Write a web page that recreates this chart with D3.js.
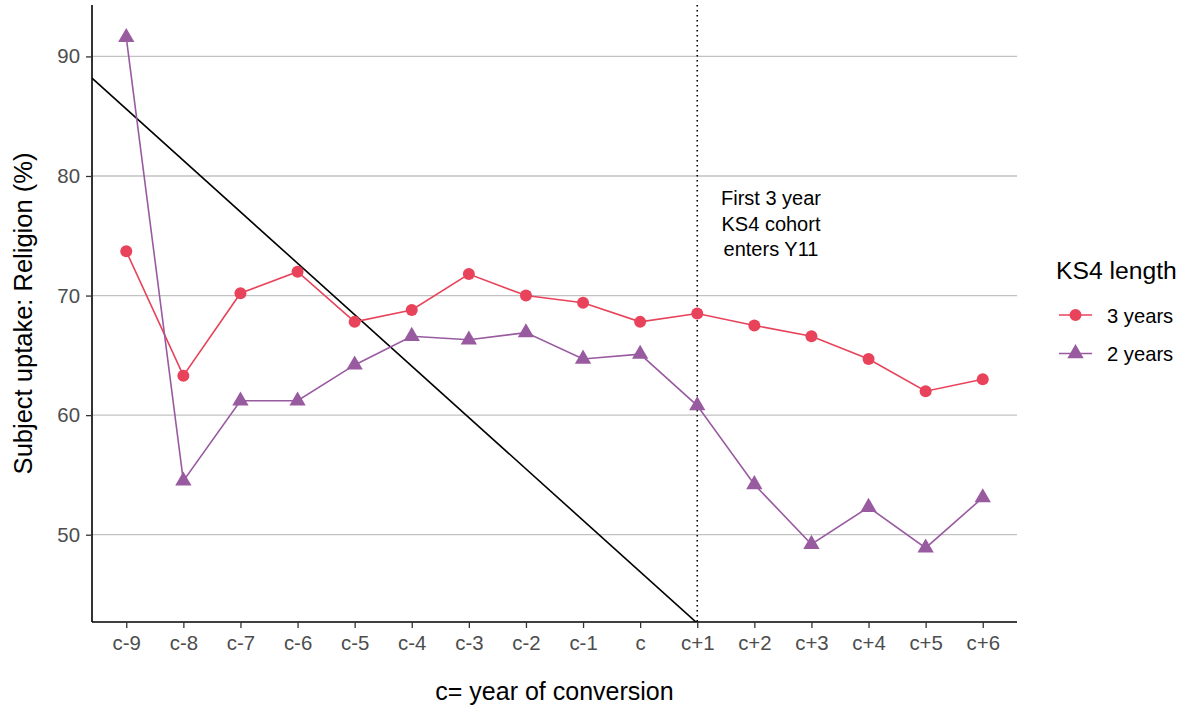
<!DOCTYPE html>
<html>
<head>
<meta charset="utf-8">
<script src="https://cdn.jsdelivr.net/npm/d3@7"></script>
<style>
  body { margin: 0; background: #fff; }
  text { font-family: "Liberation Sans", Arial, sans-serif; }
</style>
</head>
<body>
<div id="chart"></div>
<script>
// categories and values
var years = ["c-9","c-8","c-7","c-6","c-5","c-4","c-3","c-2","c-1","c","c+1","c+2","c+3","c+4","c+5","c+6"];
var threeYears = [73.7, 63.3, 70.2, 72.0, 67.8, 68.8, 71.8, 70.0, 69.4, 67.8, 68.5, 67.5, 66.6, 64.7, 62.0, 63.0];
var twoYears   = [91.6, 54.5, 61.2, 61.2, 64.2, 66.6, 66.3, 66.9, 64.7, 65.1, 60.8, 54.2, 49.2, 52.3, 48.9, 53.1];
var yTicks = [50, 60, 70, 80, 90];
var seriesNames = ["3 years", "2 years"];
// reference line: value = intercept + slope * position (position 1 = c-9)
var abline = { intercept: 89.9, slope: -4.3 };
var markerYear = "c+1";
var noteLines = ["First 3 year", "KS4 cohort", "enters Y11"];

var W = 1187, H = 707;
// plot panel edges ("top" is a reserved window property, so use pTop etc)
var pLeft = 92, pRight = 1017, pTop = 5, pBottom = 622;
var red = "#E8435A", purple = "#995BA0";

var svg = d3.select("#chart").append("svg")
    .attr("width", W)
    .attr("height", H);

var x = d3.scalePoint().domain(years).range([pLeft, pRight]).padding(0.6);
var xPos = d3.scaleLinear().domain([1, years.length]).range([x(years[0]), x(years[years.length - 1])]);
var y = d3.scaleLinear().domain([42.7, 94.3]).range([pBottom, pTop]);

// gridlines
svg.append("g").selectAll("line").data(yTicks).enter().append("line")
    .attr("x1", pLeft).attr("x2", pRight)
    .attr("y1", function(d) { return y(d); })
    .attr("y2", function(d) { return y(d); })
    .attr("stroke", "#c2c2c2")
    .attr("stroke-width", 1.3);

svg.append("defs").append("clipPath").attr("id", "clip")
  .append("rect")
    .attr("x", pLeft).attr("y", pTop)
    .attr("width", pRight - pLeft).attr("height", pBottom - pTop);

// dotted marker line
svg.append("line")
    .attr("x1", x(markerYear)).attr("x2", x(markerYear))
    .attr("y1", pTop).attr("y2", pBottom)
    .attr("stroke", "#000")
    .attr("stroke-width", 1.6)
    .attr("stroke-dasharray", "1.6,3.4");

// diagonal reference line
var p0 = xPos.invert(pLeft), p1 = xPos.invert(pRight);
svg.append("line")
    .attr("clip-path", "url(#clip)")
    .attr("x1", xPos(p0)).attr("y1", y(abline.intercept + abline.slope * p0))
    .attr("x2", xPos(p1)).attr("y2", y(abline.intercept + abline.slope * p1))
    .attr("stroke", "#000")
    .attr("stroke-width", 1.6);

var line = d3.line()
    .x(function(d, i) { return x(years[i]); })
    .y(function(d) { return y(d); });

svg.append("path").datum(threeYears)
    .attr("d", line).attr("fill", "none")
    .attr("stroke", red).attr("stroke-width", 1.6);

svg.append("path").datum(twoYears)
    .attr("d", line).attr("fill", "none")
    .attr("stroke", purple).attr("stroke-width", 1.6);

svg.append("g").selectAll("circle").data(threeYears).enter().append("circle")
    .attr("cx", function(d, i) { return x(years[i]); })
    .attr("cy", function(d) { return y(d); })
    .attr("r", 6)
    .attr("fill", red);

var tri = d3.symbol().type(d3.symbolTriangle).size(115);
svg.append("g").selectAll("path").data(twoYears).enter().append("path")
    .attr("d", tri)
    .attr("transform", function(d, i) { return "translate(" + x(years[i]) + "," + y(d) + ")"; })
    .attr("fill", purple);

// annotation
svg.append("text")
    .attr("x", 771).attr("y", 205)
    .attr("text-anchor", "middle")
    .attr("font-size", 20)
    .attr("fill", "#000")
    .selectAll("tspan").data(noteLines).enter().append("tspan")
    .attr("x", 771)
    .attr("dy", function(d, i) { return i === 0 ? 0 : 25.5; })
    .text(function(d) { return d; });

// axes
var xAxis = svg.append("g")
    .attr("transform", "translate(0," + pBottom + ")")
    .call(d3.axisBottom(x).tickSize(6).tickPadding(8));
xAxis.select(".domain").attr("d", "M" + pLeft + ",0H" + pRight).attr("stroke", "#000").attr("stroke-width", 1.6);
xAxis.selectAll(".tick line").attr("stroke", "#333").attr("stroke-width", 1.3);
xAxis.selectAll(".tick text").attr("font-size", 20.4).attr("fill", "#4d4d4d")
    .attr("font-family", "Liberation Sans, Arial, sans-serif");

var yAxis = svg.append("g")
    .attr("transform", "translate(" + pLeft + ",0)")
    .call(d3.axisLeft(y).tickValues(yTicks).tickSize(6).tickPadding(6));
yAxis.select(".domain").attr("d", "M0," + pTop + "V" + pBottom).attr("stroke", "#000").attr("stroke-width", 1.6);
yAxis.selectAll(".tick line").attr("stroke", "#333").attr("stroke-width", 1.3);
yAxis.selectAll(".tick text").attr("font-size", 20.4).attr("fill", "#4d4d4d")
    .attr("font-family", "Liberation Sans, Arial, sans-serif");

// axis titles
svg.append("text")
    .attr("x", (pLeft + pRight) / 2).attr("y", 700)
    .attr("text-anchor", "middle")
    .attr("font-size", 25)
    .text("c= year of conversion");

svg.append("text")
    .attr("transform", "translate(32," + ((pTop + pBottom) / 2) + ") rotate(-90)")
    .attr("text-anchor", "middle")
    .attr("font-size", 25.5)
    .text("Subject uptake: Religion (%)");

// legend
var legend = svg.append("g");
legend.append("text")
    .attr("x", 1056).attr("y", 279)
    .attr("font-size", 24.7)
    .text("KS4 length");

var items = legend.selectAll("g.item").data(seriesNames).enter().append("g")
    .attr("class", "item")
    .attr("transform", function(d, i) { return "translate(0," + (315 + i * 38.5) + ")"; });

items.append("line")
    .attr("x1", 1059).attr("x2", 1092)
    .attr("stroke", function(d, i) { return i === 0 ? red : purple; })
    .attr("stroke-width", 1.6);

items.append("path")
    .attr("transform", "translate(1075.5,0)")
    .attr("d", function(d, i) { return i === 0 ? d3.symbol().type(d3.symbolCircle).size(113)() : tri(); })
    .attr("fill", function(d, i) { return i === 0 ? red : purple; });

items.append("text")
    .attr("x", 1107).attr("y", 7.5)
    .attr("font-size", 20.2)
    .text(function(d) { return d; });
</script>
</body>
</html>
